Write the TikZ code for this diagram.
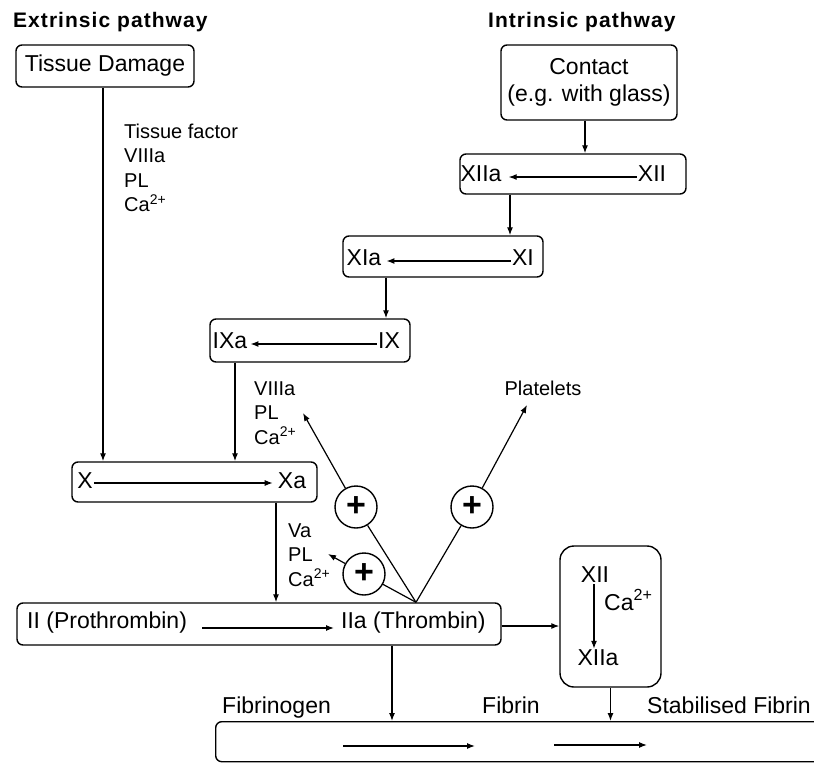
\documentclass[tikz,border=0pt]{standalone}
\usepackage{fontspec}
\setmainfont{Liberation Sans}
\newfontfamily\titlefont[LetterSpace=5]{Liberation Sans}
\usetikzlibrary{arrows.meta}
\begin{document}
\begin{tikzpicture}[x=1pt,y=-1pt,
  box/.style={draw, line width=1.4pt, rounded corners=6pt, inner sep=0pt},
  tx/.style={font=\fontsize{23}{27.5}\selectfont, inner sep=1pt},
  lab/.style={font=\fontsize{20}{24.5}\selectfont, inner sep=0pt, anchor=base west},
  ttl/.style={font=\titlefont\fontsize{21}{25}\selectfont\bfseries, inner sep=0pt, anchor=base west},
  arr/.style={line width=1.2pt, -{Latex[length=8pt,width=6pt]}},
  ln/.style={line width=1.2pt},
  plus/.style={circle, draw, line width=1.4pt, minimum size=42pt, inner sep=0pt,
               font=\fontsize{34}{34}\selectfont\bfseries}]
\useasboundingbox (0,0) rectangle (814,763);
\clip (0,0) rectangle (814,763);

% titles
\node[ttl] (ext) at (13,27) {Extrinsic pathway};
\node[ttl] (int) at (488,27) {Intrinsic pathway};

% extrinsic start
\node[box, tx, inner sep=0pt, minimum width=178pt, minimum height=42pt] (td) at (105,66) {Tissue Damage};
\node[lab] (tf) at (124,138) {\begin{tabular}[t]{@{}l@{}}Tissue factor\\VIIIa\\PL\\Ca\textsuperscript{2+}\end{tabular}};

% intrinsic start
\node[box, tx, inner sep=0pt, align=center, minimum width=176pt, minimum height=75pt] (contact) at (589,82.5) {Contact\\(e.g. with glass)};

% XII box
\node[box, minimum width=226pt, minimum height=40pt] (b12) at (573,174) {};
\node[tx] (t12a) at (481,174) {XIIa};
\node[tx] (t12) at (652,174) {XII};
\draw[arr, shorten >=6pt] ([yshift=-3pt]t12.west) -- ([yshift=-3pt]t12a.east);

% XI box
\node[box, minimum width=200pt, minimum height=41pt] (b11) at (443,256.5) {};
\node[tx] (t11a) at (364,258) {XIa};
\node[tx] (t11) at (523,258) {XI};
\draw[arr, shorten >=4pt] ([yshift=-3pt]t11.west) -- ([yshift=-3pt]t11a.east);

% IX box
\node[box, minimum width=200pt, minimum height=43pt] (b9) at (310,340.5) {};
\node[tx] (t9a) at (230,341) {IXa};
\node[tx] (t9) at (389,341) {IX};
\draw[arr, shorten >=2pt] ([yshift=-3pt]t9.west) -- ([yshift=-3pt]t9a.east);
\node[lab] (l9) at (254,395) {\begin{tabular}[t]{@{}l@{}}VIIIa\\PL\\Ca\textsuperscript{2+}\end{tabular}};

% X box
\node[box, minimum width=245pt, minimum height=40pt] (b10) at (194.5,482) {};
\node[tx] (t10) at (85,481) {X};
\node[tx] (t10a) at (292,481) {Xa};
\draw[arr, shorten >=4pt] ([yshift=-2pt]t10.east) -- ([yshift=-2pt]t10a.west);
\node[lab] (l10) at (288,537) {\begin{tabular}[t]{@{}l@{}}Va\\PL\\Ca\textsuperscript{2+}\end{tabular}};

% prothrombin box
\node[box, minimum width=484pt, minimum height=42pt] (b2) at (259,624) {};
\node[tx, anchor=west] (pro) at (26,623) {II (Prothrombin)};
\node[tx, anchor=west] (thr) at (340,623) {IIa (Thrombin)};
\draw[arr, shorten <=14pt, shorten >=6pt] ([yshift=-5pt]pro.east) -- ([yshift=-5pt]thr.west);

% XII activation box
\node[box, rounded corners=14pt, minimum width=101pt, minimum height=141pt] (b13) at (610.5,616.5) {};
\node[tx] (x12) at (595,575) {XII};
\node[tx] (x12a) at (598,658) {XIIa};
\node[tx, anchor=base west, inner sep=0pt] (ca) at (604,610) {Ca\textsuperscript{2+}};
\coordinate (x12s) at ([xshift=-1pt]x12.south);
\draw[arr] (x12s) -- (x12s |- x12a.north);

% fibrin box
\node[box, minimum width=640pt, minimum height=40pt, anchor=north west] (fib) at (215,721) {};
\node[tx, anchor=base west, inner sep=0pt] (fbg) at (222,713) {Fibrinogen};
\node[tx, anchor=base west, inner sep=0pt] (fbn) at (482,713) {Fibrin};
\node[tx, anchor=base west, inner sep=0pt] (sfb) at (647,713) {Stabilised Fibrin};
\coordinate (f1s) at (343,746);
\coordinate (f1e) at (475,746);
\coordinate (f2s) at (554,745);
\coordinate (f2e) at (647,745);
\draw[arr] (f1s) -- (f1e);
\draw[arr] (f2s) -- (f2e);

% vertical connectors
\coordinate (tdd) at ([xshift=-2pt]td.south);
\draw[arr] (tdd) -- (tdd |- b10.north);
\coordinate (cd) at ([xshift=-4pt]contact.south);
\draw[arr] (cd) -- (cd |- b12.north);
\coordinate (d12) at ([xshift=-63pt]b12.south);
\draw[arr] (d12) -- (d12 |- b11.north);
\coordinate (d11) at ([xshift=-57pt]b11.south);
\draw[arr] (d11) -- (d11 |- b9.north);
\coordinate (d9) at ([xshift=-75pt]b9.south);
\draw[arr] (d9) -- (d9 |- b10.north);
\coordinate (d10) at ([xshift=81.5pt]b10.south);
\draw[arr] (d10) -- (d10 |- b2.north);
\coordinate (d2) at ([xshift=133pt]b2.south);
\draw[arr] (d2) -- (d2 |- fib.north);
\draw[arr] (b13.south) -- (b13.south |- fib.north);
\coordinate (r2) at ([yshift=-2pt]b2.east);
\draw[arr] (r2) -- (r2 -| b13.west);

% thrombin feedback
\coordinate (apex) at ([xshift=157pt]b2.north);
\node[plus] (p1) at (356,507) {+};
\node[plus] (p2) at (364,574) {+};
\node[plus] (p3) at (472,507) {+};
\coordinate (t1) at (303,413);
\coordinate (t2) at (328,554);
\coordinate (t3) at (527,405);
\draw[ln] (apex) -- (p1);
\draw[arr] (p1) -- (t1);
\draw[ln] (apex) -- (p2);
\draw[arr] (p2) -- (t2);
\draw[ln] (apex) -- (p3);
\draw[arr] (p3) -- (t3);
\node[lab, anchor=center] (plat) at (543,388) {Platelets};
\end{tikzpicture}
\end{document}
